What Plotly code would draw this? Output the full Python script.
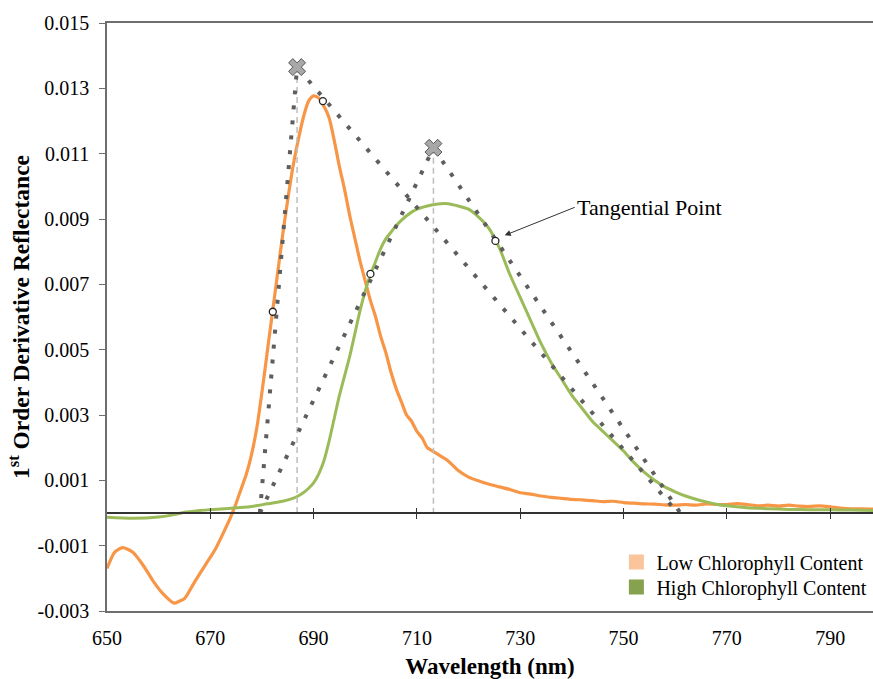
import plotly.graph_objects as go

# ---------------- data ----------------
wl_low = [650, 651.5, 653, 655, 657, 659, 661, 663, 664, 665, 667, 669, 671, 673, 674, 675, 676, 677,
          678, 679, 680, 681, 682, 683, 684, 685, 686, 687, 688, 689, 690, 691, 692, 693, 694, 695,
          696, 697, 698, 699, 700, 701, 702, 703, 704, 705, 706, 707, 708, 709, 710, 711, 712, 713,
          714, 716, 718, 720, 722, 724, 726, 728, 730, 732, 734, 736, 738, 740, 742, 744, 746, 748,
          750, 752, 754, 756, 758, 760, 762, 764, 766, 768, 770, 772, 774, 776, 778, 780, 782, 784,
          786, 788, 790, 792, 794, 796, 798.5]
low_chl = [-0.0017, -0.0012, -0.00106, -0.0012, -0.0016, -0.0021, -0.0025, -0.00276, -0.0027, -0.00262,
           -0.0021, -0.0016, -0.0011, -0.00045, -0.0001, 0.0003, 0.00075, 0.0012,
           0.0018, 0.0026, 0.0037, 0.0049, 0.0061, 0.0073, 0.0085, 0.0096, 0.0106, 0.0114, 0.0121, 0.0126,
           0.01277, 0.0127, 0.01245, 0.0121, 0.0114, 0.0106,
           0.0099, 0.0091, 0.0084, 0.0077, 0.0071, 0.0065, 0.0060, 0.0054, 0.0049, 0.0043, 0.0038, 0.0034,
           0.0030, 0.0028, 0.0025, 0.0023, 0.0020, 0.0019,
           0.0018, 0.0016, 0.0013, 0.0011, 0.00098, 0.00088, 0.0008, 0.00072, 0.00062, 0.00058, 0.00052,
           0.00048, 0.00045, 0.00042, 0.0004, 0.00038, 0.00035, 0.00036,
           0.00032, 0.0003, 0.00028, 0.00027, 0.00025, 0.00024, 0.00026, 0.00024, 0.00028, 0.00026,
           0.00026, 0.00029, 0.00026, 0.00022, 0.00024, 0.00021, 0.00024, 0.00021,
           0.0002, 0.00022, 0.00019, 0.00015, 0.00013, 0.00013, 0.00012]

wl_high = [650, 655, 660, 663, 665, 668, 670, 672, 675, 678, 681, 684, 686, 687, 688, 689, 690, 691,
           692, 693, 694, 695, 696, 697, 698, 699, 700, 701, 702, 703, 704, 705, 706, 708, 710, 712,
           714, 716, 718, 720, 722, 724, 726, 728, 730, 732, 734, 736, 738, 740, 742, 744, 746, 748,
           750, 752, 754, 756, 758, 760, 762, 764, 766, 768, 770, 774,
           778, 782, 786, 790, 794, 798.5]
high_chl = [-0.00013, -0.00016, -0.00012, -0.00005, 0.00002, 0.00008, 0.0001, 0.00012, 0.00016, 0.0002,
            0.00028, 0.00036, 0.00045, 0.00052, 0.00062, 0.00075, 0.00092, 0.0012,
            0.0016, 0.0022, 0.0029, 0.0036, 0.0042, 0.0048, 0.0055, 0.0062, 0.0068, 0.0073, 0.0077,
            0.0081, 0.0084, 0.0086, 0.0088, 0.0091, 0.0093, 0.0094,
            0.00946, 0.00947, 0.0094, 0.0093, 0.00905, 0.0087, 0.0081, 0.0073, 0.0066, 0.0059, 0.0052,
            0.0046, 0.0041, 0.0036, 0.0032, 0.0028, 0.0025, 0.0022,
            0.0019, 0.00155, 0.00125, 0.001, 0.0008, 0.00065, 0.00052, 0.00042, 0.00034, 0.00027,
            0.00022, 0.00016,
            0.00013, 0.00011, 0.0001, 0.0001, 0.00009, 0.00008]

# tangent construction (triangles)
tri_low_x = [679.6, 686.8, 760.5]
tri_low_y = [0.0, 0.01365, 0.0]
tri_high_x = [679.6, 713.2, 761.0]
tri_high_y = [0.0, 0.01118, 0.0]

# red-edge position markers (apex of triangles)
apex_x = [686.8, 713.2]
apex_y = [0.01365, 0.01118]

# tangential points
tan_x = [682.1, 691.8, 701.0, 725.2]
tan_y = [0.00616, 0.01261, 0.00732, 0.00833]

x_ticks = [650, 670, 690, 710, 730, 750, 770, 790]
x_minor = [670, 690, 710, 730, 750, 770, 790]
y_ticks = [-0.003, -0.001, 0.001, 0.003, 0.005, 0.007, 0.009, 0.011, 0.013, 0.015]
y_ticktext = ["-0.003", "-0.001", "0.001", "0.003", "0.005", "0.007", "0.009", "0.011", "0.013", "0.015"]

series_names = ["Low Chlorophyll Content", "High Chlorophyll Content"]
line_colors = ["#F79646", "#9BBB59"]
legend_colors = ["#FAC59A", "#86A24E"]

FONT = "Liberation Serif, Times New Roman, serif"
XR = [650, 798.3]
YR = [-0.003, 0.015]

fig = go.Figure()

# curves
fig.add_trace(go.Scatter(x=wl_low, y=low_chl, mode="lines", showlegend=False,
                         line=dict(color=line_colors[0], width=3.2, shape="spline", smoothing=0.7),
                         hoverinfo="skip"))
fig.add_trace(go.Scatter(x=wl_high, y=high_chl, mode="lines", showlegend=False,
                         line=dict(color=line_colors[1], width=3, shape="spline", smoothing=0.7),
                         hoverinfo="skip"))

# vertical dashed drop lines from apex to 0
for ax_, ay_ in zip(apex_x, apex_y):
    fig.add_trace(go.Scatter(x=[ax_, ax_], y=[ay_, 0], mode="lines", showlegend=False,
                             line=dict(color="#BDBDBD", width=1.5, dash="6px,4px"), hoverinfo="skip"))

# dotted tangent triangles
for tx, ty in [(tri_low_x, tri_low_y), (tri_high_x, tri_high_y)]:
    fig.add_trace(go.Scatter(x=tx, y=ty, mode="lines", showlegend=False,
                             line=dict(color="#5E5E5E", width=4, dash="4px,11px"), hoverinfo="skip"))

# tangential points
fig.add_trace(go.Scatter(x=tan_x, y=tan_y, mode="markers", showlegend=False,
                         marker=dict(symbol="circle", size=7, color="white",
                                     line=dict(color="#222", width=1.3)), hoverinfo="skip"))

# apex crosses
fig.add_trace(go.Scatter(x=apex_x, y=apex_y, mode="markers", showlegend=False,
                         marker=dict(symbol="x", size=15, color="#A8A8A8",
                                     line=dict(color="#555", width=1)), hoverinfo="skip"))

# legend entries (square swatches), one legend per entry for exact spacing
for name, col, lg in zip(series_names, legend_colors, ["legend", "legend2"]):
    fig.add_trace(go.Scatter(x=[None], y=[None], mode="markers", name=name, legend=lg,
                             marker=dict(symbol="square", size=15, color=col,
                                         line=dict(color=col, width=0))))

# invisible traces to activate zero-line axes
fig.add_trace(go.Scatter(x=[650], y=[0], xaxis="x2", mode="markers", showlegend=False,
                         marker=dict(opacity=0), hoverinfo="skip"))
fig.add_trace(go.Scatter(x=[650], y=[0], xaxis="x3", mode="markers", showlegend=False,
                         marker=dict(opacity=0), hoverinfo="skip"))

fig.add_annotation(x=727.0, y=0.0085, xref="x", yref="y", ax=70, ay=-28,
                   text="Tangential Point", showarrow=True, arrowhead=2, arrowsize=1.2,
                   arrowwidth=1, arrowcolor="#333", xanchor="left",
                   font=dict(family=FONT, size=22, color="black"))

legend_common = dict(xanchor="left", yanchor="middle", bgcolor="rgba(0,0,0,0)",
                     font=dict(family=FONT, size=20, color="black"), itemwidth=30)

fig.update_layout(
    width=873, height=679,
    margin=dict(l=107, r=0, t=23, b=68),
    paper_bgcolor="white", plot_bgcolor="white",
    font=dict(family=FONT, size=20, color="black"),
    showlegend=True,
    legend=dict(x=0.665, y=0.0833, **legend_common),
    legend2=dict(x=0.665, y=0.0408, **legend_common),
    xaxis=dict(range=XR, showgrid=False, zeroline=False, showline=True, mirror=True,
               linecolor="#6E6E6E", linewidth=1.5, ticks="",
               tickvals=x_ticks, ticktext=[str(v) for v in x_ticks], ticklabelstandoff=8,
               tickfont=dict(family=FONT, size=20, color="black"),
               title=dict(text="Wavelength (nm)", standoff=12,
                          font=dict(family=FONT, size=23, color="black", weight="bold"))),
    xaxis2=dict(range=XR, overlaying="x", anchor="free", position=3 / 18, showgrid=False,
                zeroline=False, showline=True, linecolor="#333", linewidth=1.5,
                ticks="outside", ticklen=5, tickwidth=1.2, tickcolor="#333",
                tickvals=x_minor, showticklabels=False),
    xaxis3=dict(range=XR, overlaying="x", anchor="free", position=3 / 18, showgrid=False,
                zeroline=False, showline=False,
                ticks="inside", ticklen=5, tickwidth=1.2, tickcolor="#333",
                tickvals=x_minor, showticklabels=False),
    yaxis=dict(range=YR, showgrid=False, zeroline=False, showline=True,
               linecolor="#6E6E6E", linewidth=1.5, ticks="outside", ticklen=6, tickcolor="#6E6E6E",
               tickvals=y_ticks, ticktext=y_ticktext, ticklabelstandoff=6,
               tickfont=dict(family=FONT, size=20, color="black"),
               title=dict(text="1<sup>st</sup> Order Derivative Reflectance", standoff=1,
                          font=dict(family=FONT, size=23.5, color="black", weight="bold"))),
)

fig.write_html("out.html")
